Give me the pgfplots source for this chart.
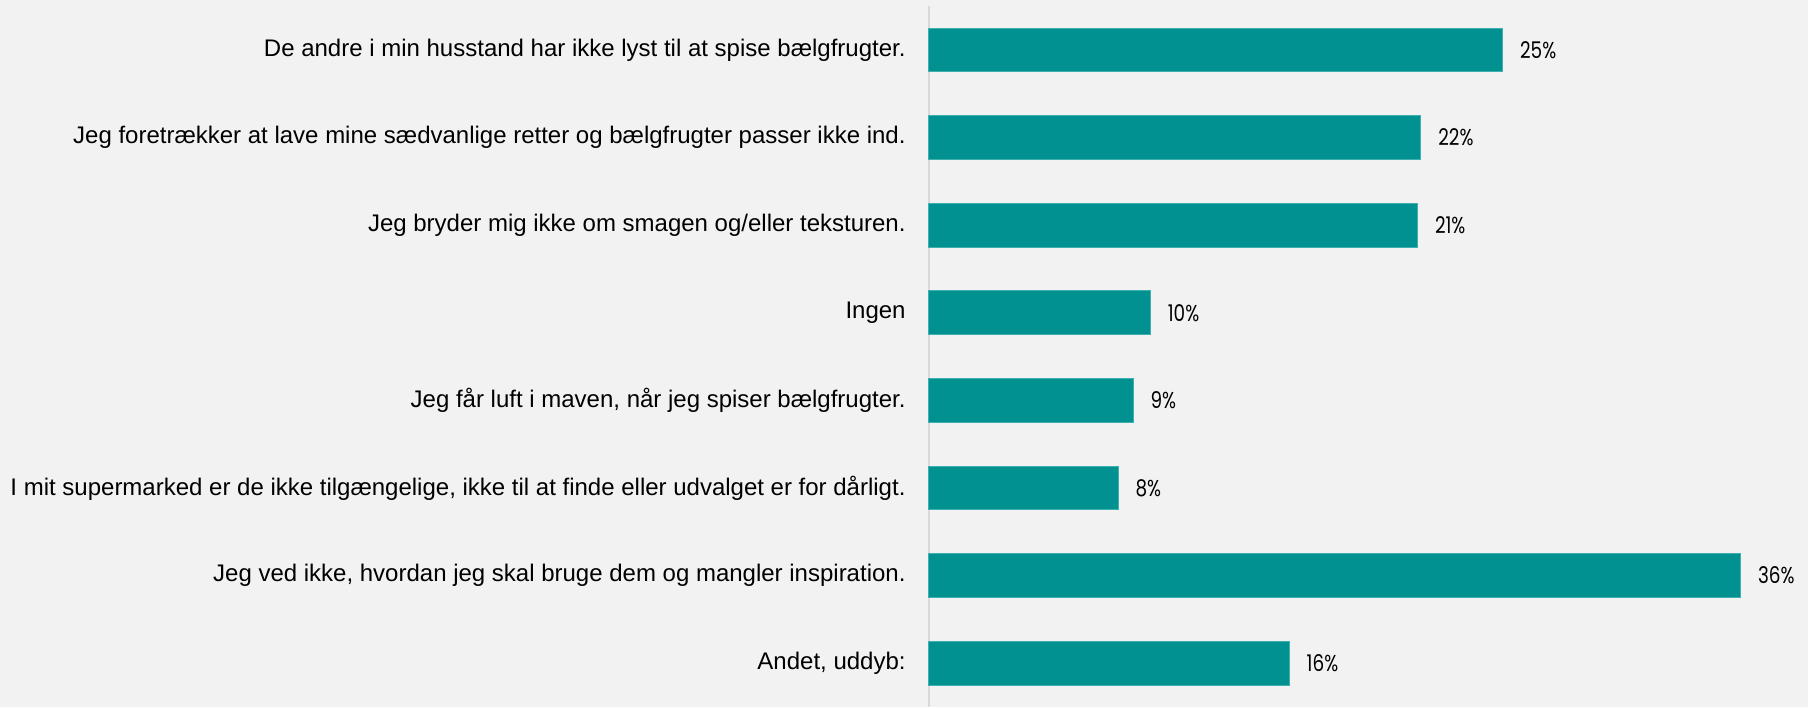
\documentclass[border=0pt]{standalone}
\usepackage{pgfplots}
\pgfplotsset{compat=1.18}
\usepackage{fontspec}
\setmainfont{Liberation Sans}
\newfontfamily\numfont{Poppins}[FakeStretch=0.8]
\definecolor{barc}{HTML}{009190}
\definecolor{bare}{HTML}{3FB0AF}
\definecolor{bg}{HTML}{F2F2F2}
\definecolor{axl}{HTML}{D9D9D9}
\pgfplotstableread{
i v lab
0 25.27 25
1 21.67 22
2 21.52 21
3 9.75 10
4 8.99 9
5 8.33 8
6 35.75 36
7 15.87 16
}\datatab
\begin{document}
\begin{tikzpicture}
\fill[bg] (-464.5pt,0pt) rectangle (439.5pt,353.5pt);
\path[use as bounding box] (-464.5pt,0pt) rectangle (439.5pt,353.5pt);
\begin{axis}[
  anchor=south west, at={(0pt,0pt)},
  scale only axis,
  width=431.3pt, height=350.4pt,
  xmin=0, xmax=38, ymin=-0.5, ymax=7.5,
  y dir=reverse,
  axis x line=none,
  axis y line*=left,
  y axis line style={draw=axl, line width=1pt},
  ytick={0,...,7},
  major tick length=0pt,
  ytick style={draw=none},
  yticklabel style={font=\fontsize{12}{14}\selectfont, text=black, inner sep=0pt, xshift=-11.5pt},
  yticklabels={
    {De andre i min husstand har ikke lyst til at spise bælgfrugter.},
    {Jeg foretrækker at lave mine sædvanlige retter og bælgfrugter passer ikke ind.},
    {Jeg bryder mig ikke om smagen og/eller teksturen.},
    {Ingen},
    {Jeg får luft i maven, når jeg spiser bælgfrugter.},
    {I mit supermarked er de ikke tilgængelige, ikke til at finde eller udvalget er for dårligt.},
    {Jeg ved ikke, hvordan jeg skal bruge dem og mangler inspiration.},
    {Andet, uddyb:}
  },
  xbar, bar width=21.9pt, bar shift=0pt,
  point meta=explicit symbolic,
  nodes near coords={\pgfplotspointmeta\%},
  nodes near coords style={font=\numfont\fontsize{11.5}{13}\selectfont, text=black, anchor=west, inner sep=0pt, xshift=8.5pt},
  clip=false,
]
\addplot[fill=barc, draw=bare, line width=0.5pt] table[x=v, y=i, meta=lab] {\datatab};
\end{axis}
\end{tikzpicture}
\end{document}
